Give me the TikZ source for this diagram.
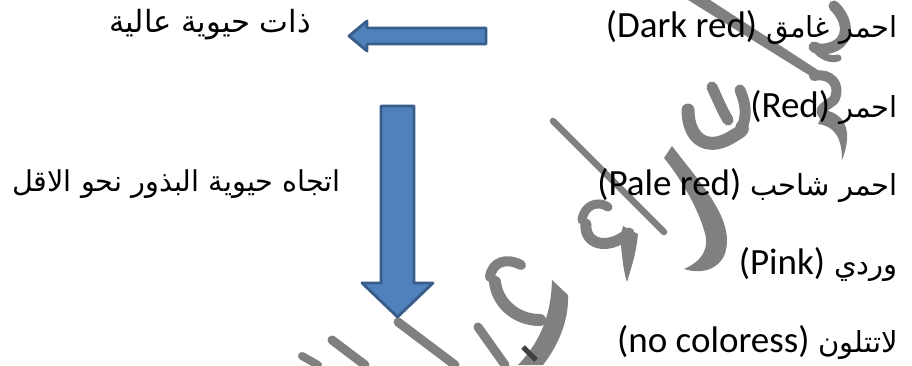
\documentclass[tikz,border=0pt]{standalone}
\usepackage{fontspec}
\setmainfont{Carlito}
\newfontfamily\arfont[Script=Arabic]{DejaVu Sans}
\TeXXeTstate=1
\definecolor{arrowfill}{HTML}{4F81BD}
\definecolor{arrowline}{HTML}{385D8A}
\definecolor{wm}{HTML}{808080}
\definecolor{wmdark}{HTML}{404040}
\newcommand{\artext}[1]{{\arfont\fontsize{29}{32}\selectfont\beginR #1\endR}}
\begin{document}
\begin{tikzpicture}[x=1pt,y=-1pt,
  rowtext/.style={anchor=base east, inner sep=0pt, font=\fontsize{37}{40}\selectfont},
  blockarrow/.style={fill=arrowfill, draw=arrowline, line width=2.8pt, line join=round},
  wmstroke/.style={draw=wm, line cap=round, line join=round}]
\useasboundingbox (0,0) rectangle (912,365);
\fill[white] (0,0) rectangle (912,365);
% watermark
\fill[wm] (688,0) -- (710,0) -- (824,74) -- (812,77) -- cycle;
\draw[wmstroke, line width=11] (834,6) .. controls (850,22) and (848,40) .. (835,46) .. controls (826,50) and (818,50) .. (814,47);
\draw[wmstroke, line width=7] (818,52) .. controls (825,58) and (832,60) .. (838,58);
\draw[wmstroke, line width=10] (814,76) .. controls (830,72) and (842,85) .. (834,100) .. controls (824,108) and (815,110) .. (828,118);
\fill[wm] (824,110) .. controls (848,114) and (852,135) .. (842,160) .. controls (842,137) and (834,126) .. (818,124) -- cycle;
\draw[wmstroke, line width=11] (712,87) .. controls (718,100) and (722,110) .. (728,120);
\draw[wmstroke, line width=11] (740,90) .. controls (746,104) and (747,116) .. (742,127);
\draw[wmstroke, line width=13] (688,110) .. controls (688,137) and (705,152) .. (730,138) .. controls (740,132) and (744,130) .. (742,127);
\fill[wm] (672,146) .. controls (700,183) and (738,222) .. (724,256) .. controls (716,271) and (700,274) .. (684,269) .. controls (700,262) and (711,250) .. (704,230) .. controls (697,206) and (679,176) .. (664,158) -- cycle;
\draw[wmstroke, line width=6.5] (553,121) -- (664,232);
\draw[wmstroke, line width=9] (582,220) .. controls (584,205) and (598,200) .. (608,207);
\draw[wmstroke, line width=11] (586,224) .. controls (584,243) and (606,252) .. (629,233);
\fill[wm] (623,226) -- (638,234) .. controls (636,255) and (631,268) .. (627,282) .. controls (622,266) and (622,250) .. (620,238) -- cycle;
\draw[wmstroke, line width=10] (490,277) .. controls (492,262) and (506,257) .. (521,265);
\draw[wmstroke, line width=12] (495,282) .. controls (497,302) and (515,320) .. (540,320);
\fill[wm] (552,280) -- (568,295) .. controls (569,322) and (557,347) .. (543,365) -- (518,365) .. controls (537,345) and (551,320) .. (552,280) -- cycle;
\draw[line width=5, wmdark] (523,347) -- (536,360);
\draw[wmstroke, line width=9] (478,327) -- (505,365);
\draw[wmstroke, line width=9] (398,322) -- (455,365);
\draw[wmstroke, line width=9] (332,340) -- (365,365);
\draw[wmstroke, line width=8] (302,356) -- (318,365);
% arrows
\draw[blockarrow] (486,28) -- (367,28) -- (367,21) -- (349,36) -- (367,51) -- (367,44) -- (486,44) -- cycle;
\draw[blockarrow] (381,106) -- (414,106) -- (414,283) -- (433,283) -- (397.5,317) -- (362,283) -- (381,283) -- cycle;
% right column
\node[rowtext] (r1) at (898,37) {(Dark red)\hspace{9pt}\artext{احمر غامق}};
\node[rowtext] (r2) at (898,117) {(Red)\hspace{9pt}\artext{احمر}};
\node[rowtext] (r3) at (898,195) {(Pale red)\hspace{9pt}\artext{احمر شاحب}};
\node[rowtext] (r4) at (898,274) {(Pink)\hspace{9pt}\artext{وردي}};
\node[rowtext] (r5) at (898,352) {(no coloress)\hspace{9pt}\artext{لاتتلون}};
% left texts
\node[anchor=base, inner sep=0pt, font=\arfont\fontsize{30.6}{34}\selectfont] (high) at (210,32) {\beginR ذات حيوية عالية\endR};
\node[anchor=base, inner sep=0pt, font=\arfont\fontsize{28.7}{32}\selectfont] (dir) at (176.5,191) {\beginR اتجاه حيوية البذور نحو الاقل\endR};
\end{tikzpicture}
\end{document}
